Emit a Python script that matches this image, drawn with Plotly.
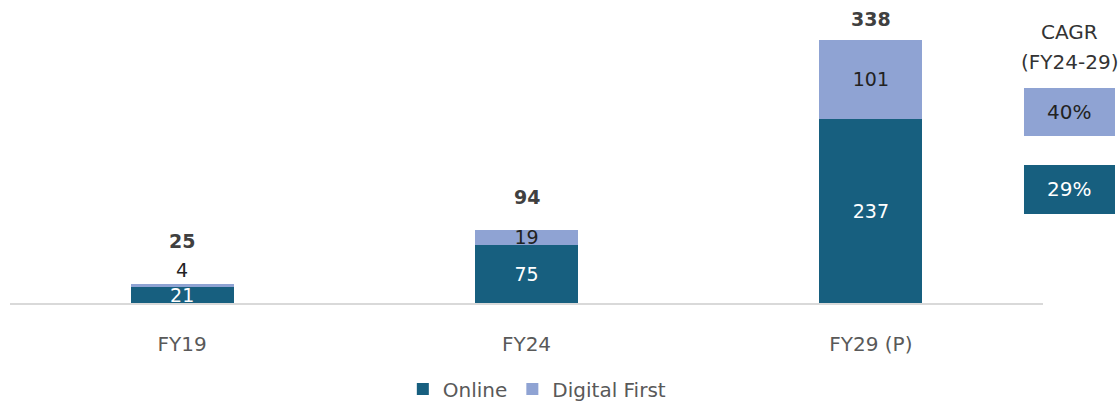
import plotly.graph_objects as go

# Revenue split by channel (stacked)
years = ["FY19", "FY24", "FY29 (P)"]
online = [21, 75, 237]
digital_first = [4, 19, 101]
totals = [25, 94, 338]

# CAGR FY24-29 per channel
cagr_labels = ["40%", "29%"]

ONLINE_COLOR = "#175F7F"
DIGITAL_COLOR = "#8FA3D3"
FONT = "DejaVu Sans, Noto Sans, sans-serif"

# the thin FY19 top segment gets its label just above the bar
digital_pos = ["outside", "inside", "inside"]

fig = go.Figure()
fig.add_trace(go.Bar(
    x=years, y=online, name="Online",
    marker=dict(color=ONLINE_COLOR, line=dict(width=0)),
    text=[str(v) for v in online], textposition="inside", textangle=0,
    insidetextanchor="middle", constraintext="none",
    textfont=dict(color="white", size=19, family=FONT),
    width=0.3,
))
fig.add_trace(go.Bar(
    x=years, y=digital_first, name="Digital First",
    marker=dict(color=DIGITAL_COLOR, line=dict(width=0)),
    text=[str(v) for v in digital_first], textposition=digital_pos, textangle=0,
    insidetextanchor="middle", constraintext="none", cliponaxis=False,
    textfont=dict(color="#222222", size=19, family=FONT),
    outsidetextfont=dict(color="#222222", size=19, family=FONT),
    width=0.3,
))

# Total labels above each stack
for yr, t, shift in zip(years, totals, [30, 20, 8]):
    fig.add_annotation(
        x=yr, y=t, text=f"<b>{t}</b>", showarrow=False,
        yanchor="bottom", yshift=shift,
        font=dict(size=19, color="#404040", family=FONT),
    )

# CAGR legend boxes on the right
cx = (0.9816 + 1.0697) / 2
for line, ypx in zip(["CAGR", "(FY24-29)"], [32, 62]):
    fig.add_annotation(
        x=cx, y=(303 - ypx) / 293, xref="paper", yref="paper",
        text=line, showarrow=False, xanchor="center", yanchor="middle",
        font=dict(size=20, color="#333333", family=FONT),
    )
box_specs = [
    (0.570, 0.7338, DIGITAL_COLOR, "#222222"),
    (0.3038, 0.471, ONLINE_COLOR, "white"),
]
for (y0, y1, fill, txt), lab in zip(box_specs, cagr_labels):
    fig.add_shape(
        type="rect", xref="paper", yref="paper",
        x0=0.9816, x1=1.0697, y0=y0, y1=y1,
        fillcolor=fill, line=dict(width=0),
    )
    fig.add_annotation(
        x=cx, y=(y0 + y1) / 2, xref="paper", yref="paper",
        text=lab, showarrow=False, xanchor="center", yanchor="middle",
        font=dict(size=20, color=txt, family=FONT),
    )

fig.update_layout(
    barmode="stack",
    width=1118, height=401,
    margin=dict(l=10, r=75, t=10, b=98, autoexpand=False),
    paper_bgcolor="white", plot_bgcolor="white",
    font=dict(family=FONT, color="#595959"),
    showlegend=True,
    legend=dict(
        orientation="h", x=0.51, xanchor="center",
        yref="container", y=0.03, yanchor="middle",
        font=dict(size=20, color="#595959", family=FONT),
        traceorder="normal",
    ),
    xaxis=dict(
        showline=True, linecolor="#D9D9D9", linewidth=2,
        ticks="outside", ticklen=22, tickcolor="rgba(0,0,0,0)",
        tickfont=dict(size=20, color="#595959", family=FONT),
        showgrid=False, zeroline=False, automargin=False,
    ),
    yaxis=dict(
        range=[0, 376.6], visible=False, showgrid=False, zeroline=False,
    ),
)

fig.write_html("out.html")
